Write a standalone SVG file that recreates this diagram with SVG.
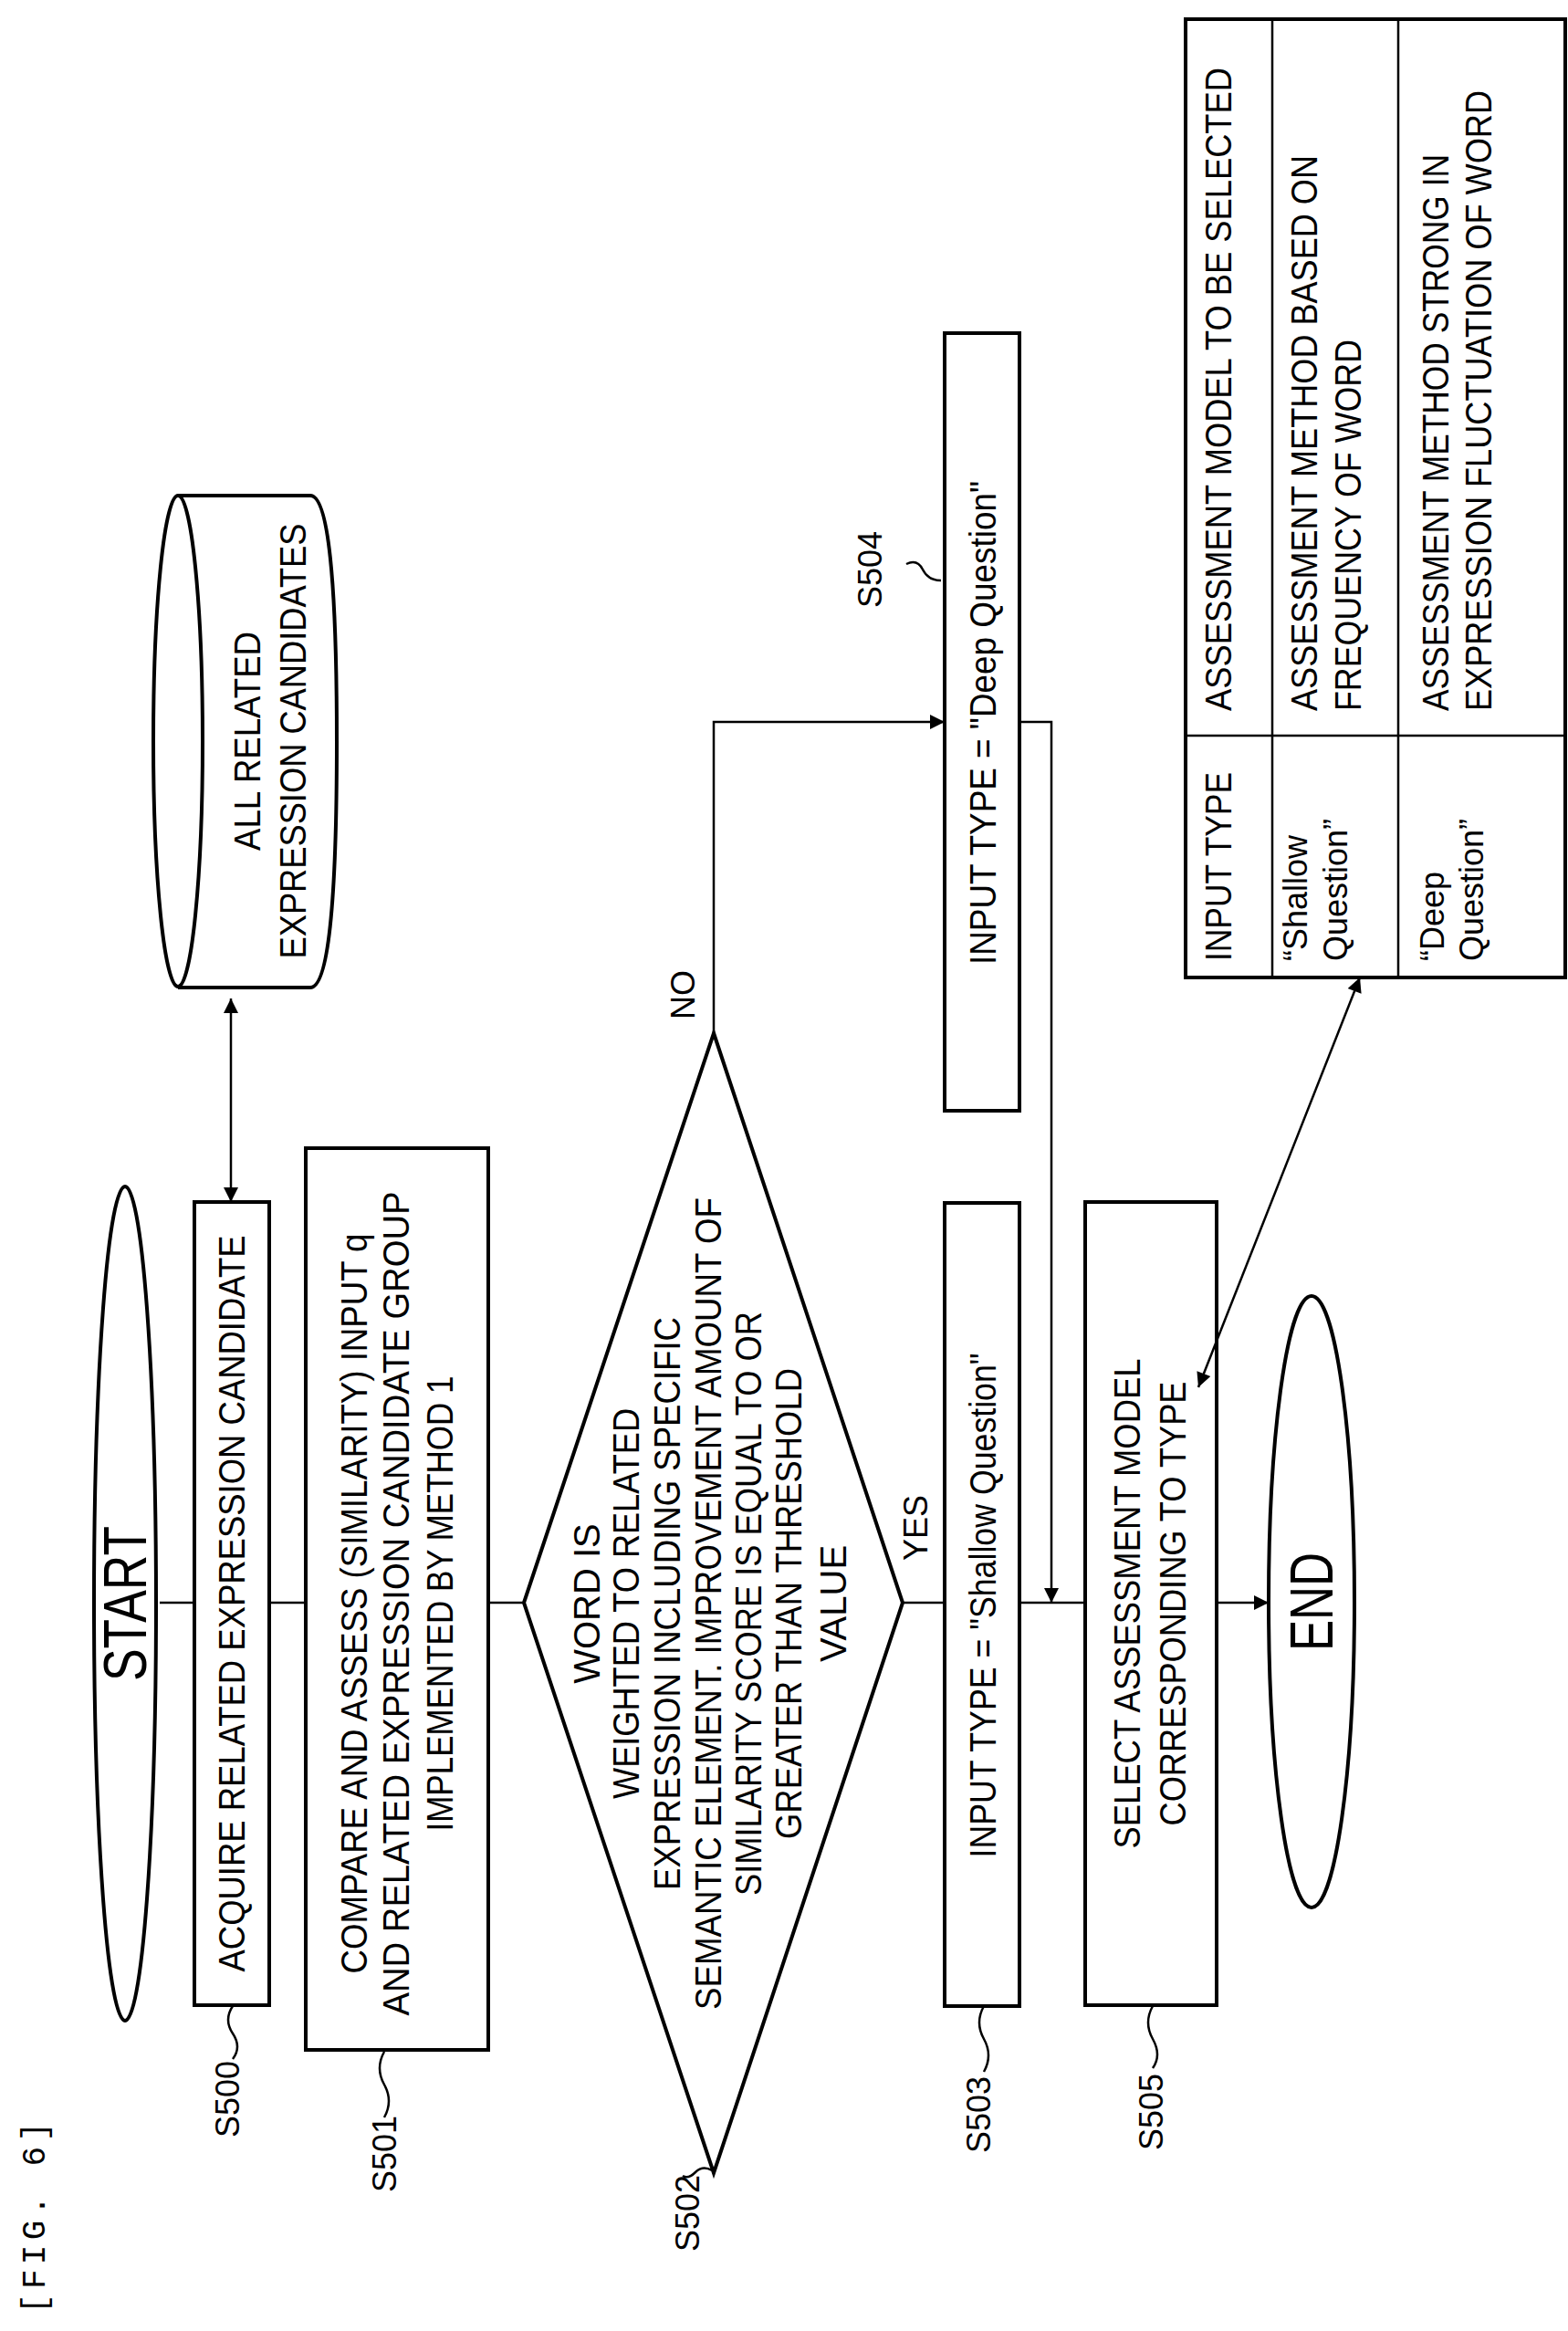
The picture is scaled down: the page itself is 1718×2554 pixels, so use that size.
<svg xmlns="http://www.w3.org/2000/svg" width="1718" height="2554" viewBox="0 0 1718 2554">
<style>
.s{fill:none;stroke:#000;stroke-width:4}
.t{stroke:#000;stroke-width:2.5;fill:none}
text{font-family:"Liberation Sans",Arial,sans-serif;font-size:40px;fill:#000;dominant-baseline:central}
.m{text-anchor:middle}
.st{text-anchor:start}
.lb{font-size:36px;text-anchor:middle}
</style>
<defs>
<marker id="b" viewBox="0 0 10 10" refX="10" refY="5" markerWidth="22" markerHeight="16" markerUnits="userSpaceOnUse" orient="auto-start-reverse"><path d="M0,0 L10,5 L0,10 z"/></marker>
</defs>
<text x="39" y="2430" class="m" transform="rotate(-90 39 2430)" style="font-family:'Liberation Mono',monospace;font-size:36px" textLength="210" lengthAdjust="spacing">[FIG. 6]</text>
<g id="connectors">
<path class="t" d="M175,1756 H213 M295,1756 H335 M535,1756 H574 M989,1756 H1035 M1117,1756 H1189"/>
<path class="t" d="M1333,1756 H1390" marker-end="url(#b)"/>
<path class="t" d="M782,1132 V791 H1035" marker-end="url(#b)"/>
<path class="t" d="M1117,791 H1152 V1756" marker-end="url(#b)"/>
<path class="t" d="M253,1094 V1317" marker-start="url(#b)" marker-end="url(#b)"/>
<path class="t" d="M1490,1071 L1313,1520" marker-start="url(#b)" marker-end="url(#b)"/>
<text x="1003" y="1674" class="m" transform="rotate(-90 1003 1674)" style="font-size:36px">YES</text>
<text x="748" y="1090" class="m" transform="rotate(-90 748 1090)" style="font-size:36px">NO</text>
</g>
<g id="start">
<ellipse class="s" cx="137" cy="1757" rx="34" ry="457"/>
<text x="137" y="1757" class="m" transform="rotate(-90 137 1757)" style="font-size:66px" textLength="170" lengthAdjust="spacingAndGlyphs">START</text>
</g>
<g id="s500">
<rect class="s" x="213" y="1317" width="82" height="880"/>
<text x="254" y="1757" class="m" transform="rotate(-90 254 1757)" textLength="807" lengthAdjust="spacingAndGlyphs">ACQUIRE RELATED EXPRESSION CANDIDATE</text>
<path class="t" d="M255,2198 q-10,15 0,30 t0,28"/>
<text x="249" y="2300" class="lb" transform="rotate(-90 249 2300)">S500</text>
</g>
<g id="db">
<path class="s" d="M195,543 H340 Q369,543 369,812 Q369,1082 340,1082 H195"/>
<ellipse class="s" cx="195" cy="812" rx="27" ry="269"/>
<text x="271" y="812" class="m" transform="rotate(-90 271 812)" textLength="240" lengthAdjust="spacingAndGlyphs">ALL RELATED</text>
<text x="321" y="812" class="m" transform="rotate(-90 321 812)" textLength="477" lengthAdjust="spacingAndGlyphs">EXPRESSION CANDIDATES</text>
</g>
<g id="s501">
<rect class="s" x="335" y="1258" width="200" height="988"/>
<text x="388" y="1757" class="m" transform="rotate(-90 388 1757)" textLength="811" lengthAdjust="spacingAndGlyphs">COMPARE AND ASSESS (SIMILARITY) INPUT q</text>
<text x="434" y="1757" class="m" transform="rotate(-90 434 1757)" textLength="903" lengthAdjust="spacingAndGlyphs">AND RELATED EXPRESSION CANDIDATE GROUP</text>
<text x="482" y="1757" class="m" transform="rotate(-90 482 1757)" textLength="499" lengthAdjust="spacingAndGlyphs">IMPLEMENTED BY METHOD 1</text>
<path class="t" d="M421,2248 q-10,18 0,36 t0,36"/>
<text x="421" y="2360" class="lb" transform="rotate(-90 421 2360)">S501</text>
</g>
<g id="s502">
<path class="s" d="M782,1132 L989,1756 L782,2381 L574,1756 Z"/>
<text x="643" y="1757" class="m" transform="rotate(-90 643 1757)">WORD IS</text>
<text x="686" y="1757" class="m" transform="rotate(-90 686 1757)" textLength="428" lengthAdjust="spacingAndGlyphs">WEIGHTED TO RELATED</text>
<text x="731" y="1757" class="m" transform="rotate(-90 731 1757)" textLength="628" lengthAdjust="spacingAndGlyphs">EXPRESSION INCLUDING SPECIFIC</text>
<text x="776" y="1757" class="m" transform="rotate(-90 776 1757)" textLength="890" lengthAdjust="spacingAndGlyphs">SEMANTIC ELEMENT. IMPROVEMENT AMOUNT OF</text>
<text x="820" y="1757" class="m" transform="rotate(-90 820 1757)" textLength="640" lengthAdjust="spacingAndGlyphs">SIMILARITY SCORE IS EQUAL TO OR</text>
<text x="864" y="1757" class="m" transform="rotate(-90 864 1757)" textLength="516" lengthAdjust="spacingAndGlyphs">GREATER THAN THRESHOLD</text>
<text x="913" y="1757" class="m" transform="rotate(-90 913 1757)">VALUE</text>
<path class="t" d="M780,2378 q-10,-6 -18,2 t-14,4"/>
<text x="753" y="2425" class="lb" transform="rotate(-90 753 2425)">S502</text>
</g>
<g id="s503">
<rect class="s" x="1035" y="1318" width="82" height="880"/>
<text x="1077" y="1759" class="m" transform="rotate(-90 1077 1759)" textLength="553" lengthAdjust="spacingAndGlyphs">INPUT TYPE = "Shallow Question"</text>
<path class="t" d="M1078,2198 q-10,18 0,36 t0,36"/>
<text x="1072" y="2317" class="lb" transform="rotate(-90 1072 2317)">S503</text>
</g>
<g id="s504">
<rect class="s" x="1035" y="365" width="82" height="852"/>
<text x="1077" y="792" class="m" transform="rotate(-90 1077 792)" textLength="530" lengthAdjust="spacingAndGlyphs">INPUT TYPE = "Deep Question"</text>
<path class="t" d="M993,618 q12,-6 18,6 t20,12"/>
<text x="953" y="624" class="lb" transform="rotate(-90 953 624)">S504</text>
</g>
<g id="s505">
<rect class="s" x="1189" y="1317" width="144" height="880"/>
<text x="1235" y="1757" class="m" transform="rotate(-90 1235 1757)" textLength="537" lengthAdjust="spacingAndGlyphs">SELECT ASSESSMENT MODEL</text>
<text x="1285" y="1757" class="m" transform="rotate(-90 1285 1757)" textLength="487" lengthAdjust="spacingAndGlyphs">CORRESPONDING TO TYPE</text>
<path class="t" d="M1263,2198 q-10,18 0,36 t0,32"/>
<text x="1261" y="2314" class="lb" transform="rotate(-90 1261 2314)">S505</text>
</g>
<g id="end">
<ellipse class="s" cx="1437" cy="1755" rx="47" ry="335"/>
<text x="1437" y="1755" class="m" transform="rotate(-90 1437 1755)" style="font-size:66px" textLength="108" lengthAdjust="spacingAndGlyphs">END</text>
</g>
<g id="table">
<rect class="s" x="1299" y="21" width="416" height="1050"/>
<path class="t" d="M1394,21 V1071 M1532,21 V1071 M1299,806 H1715"/>
<text x="1335" y="1053" class="st" transform="rotate(-90 1335 1053)" textLength="207" lengthAdjust="spacingAndGlyphs">INPUT TYPE</text>
<text x="1335" y="779" class="st" transform="rotate(-90 1335 779)" textLength="705" lengthAdjust="spacingAndGlyphs">ASSESSMENT MODEL TO BE SELECTED</text>
<text x="1419" y="1053" class="st" transform="rotate(-90 1419 1053)" style="font-size:36px">“Shallow</text>
<text x="1463" y="1053" class="st" transform="rotate(-90 1463 1053)" style="font-size:36px">Question”</text>
<text x="1429" y="779" class="st" transform="rotate(-90 1429 779)" textLength="609" lengthAdjust="spacingAndGlyphs">ASSESSMENT METHOD BASED ON</text>
<text x="1477" y="779" class="st" transform="rotate(-90 1477 779)" textLength="407" lengthAdjust="spacingAndGlyphs">FREQUENCY OF WORD</text>
<text x="1569" y="1053" class="st" transform="rotate(-90 1569 1053)" style="font-size:36px">“Deep</text>
<text x="1612" y="1053" class="st" transform="rotate(-90 1612 1053)" style="font-size:36px">Question”</text>
<text x="1573" y="779" class="st" transform="rotate(-90 1573 779)" textLength="610" lengthAdjust="spacingAndGlyphs">ASSESSMENT METHOD STRONG IN</text>
<text x="1620" y="779" class="st" transform="rotate(-90 1620 779)" textLength="680" lengthAdjust="spacingAndGlyphs">EXPRESSION FLUCTUATION OF WORD</text>
</g>
</svg>
